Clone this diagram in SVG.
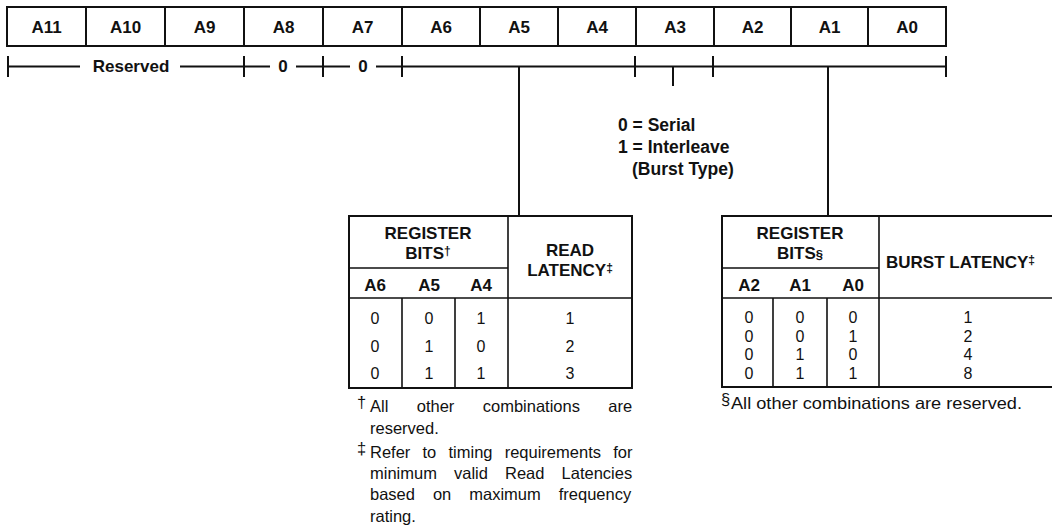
<svg xmlns="http://www.w3.org/2000/svg" width="1052" height="525" viewBox="0 0 1052 525">
<style>
text{font-family:"Liberation Sans",Arial,sans-serif;fill:#111}
.b{font-weight:bold}
.cell{font-size:17px;font-weight:bold;text-anchor:middle}
.h{font-size:17px;font-weight:bold;text-anchor:middle}
.d{font-size:16px;text-anchor:middle}
.fn{font-size:16.5px}
.ln{stroke:#111;stroke-width:2;fill:none}
.tl{stroke:#111;stroke-width:1.6;fill:none}
</style>
<rect width="1052" height="525" fill="#fff"/>
<g id="register">
<rect class="ln" x="7" y="7" width="939" height="39"/>
<path class="ln" d="M86 7V46M165 7V46M244 7V46M323 7V46M402 7V46M480 7V46M558 7V46M636 7V46M714 7V46M791 7V46M868 7V46"/>
<text class="cell" x="46.5" y="33">A11</text>
<text class="cell" x="125.5" y="33">A10</text>
<text class="cell" x="204.5" y="33">A9</text>
<text class="cell" x="283.5" y="33">A8</text>
<text class="cell" x="362.5" y="33">A7</text>
<text class="cell" x="441" y="33">A6</text>
<text class="cell" x="519" y="33">A5</text>
<text class="cell" x="597" y="33">A4</text>
<text class="cell" x="675" y="33">A3</text>
<text class="cell" x="752.5" y="33">A2</text>
<text class="cell" x="829.5" y="33">A1</text>
<text class="cell" x="907" y="33">A0</text>
</g>
<g id="ranges">
<path class="ln" d="M8 56V77M8 66.5H80M180 66.5H244M244 56V77M244 66.5H270M296 66.5H350M323 56V77M376 66.5H946M402 56V77M635 56V77M713 56V77M946 56V77"/>
<text class="h" x="131" y="72">Reserved</text>
<text class="h" x="283" y="72">0</text>
<text class="h" x="363" y="72">0</text>
</g>
<g id="connectors">
<path class="ln" d="M519 66V216M673 66V86M828 66V216"/>
</g>
<g id="burst-type">
<text class="b" x="618" y="131" font-size="17.5">0 = Serial</text>
<text class="b" x="618" y="153" font-size="17.5">1 = Interleave</text>
<text class="b" x="632" y="175" font-size="17.5">(Burst Type)</text>
</g>
<g id="read-latency-table">
<rect class="ln" x="349" y="216" width="283" height="172"/>
<path class="tl" d="M349 268H508M349 298H632M508 216V388M402 298V388M455 298V388"/>
<text class="h" x="428" y="239">REGISTER</text>
<text class="h" x="428" y="259">BITS<tspan font-size="12" dy="-4">†</tspan></text>
<text class="h" x="375" y="291">A6</text>
<text class="h" x="429" y="291">A5</text>
<text class="h" x="481" y="291">A4</text>
<text class="h" x="570" y="256">READ</text>
<text class="h" x="570" y="276">LATENCY<tspan font-size="12" dy="-4">‡</tspan></text>
<text class="d" x="375" y="324">0</text><text class="d" x="429" y="324">0</text><text class="d" x="481" y="324">1</text><text class="d" x="570" y="324">1</text>
<text class="d" x="375" y="352">0</text><text class="d" x="429" y="352">1</text><text class="d" x="481" y="352">0</text><text class="d" x="570" y="352">2</text>
<text class="d" x="375" y="379">0</text><text class="d" x="429" y="379">1</text><text class="d" x="481" y="379">1</text><text class="d" x="570" y="379">3</text>
</g>
<g id="burst-latency-table">
<path class="ln" d="M1052 216H722V387H1052"/>
<path class="tl" d="M722 268H879M722 298H1052M879 216V387M773 298V387M827 298V387"/>
<text class="h" x="800" y="239">REGISTER</text>
<text class="h" x="800" y="259">BITS<tspan font-size="13">§</tspan></text>
<text class="h" x="749" y="291">A2</text>
<text class="h" x="800" y="291">A1</text>
<text class="h" x="853" y="291">A0</text>
<text class="b" x="886" y="268" font-size="17">BURST LATENCY<tspan font-size="12" dy="-4">‡</tspan></text>
<text class="d" x="749" y="323">0</text><text class="d" x="800" y="323">0</text><text class="d" x="853" y="323">0</text><text class="d" x="968" y="323">1</text>
<text class="d" x="749" y="342">0</text><text class="d" x="800" y="342">0</text><text class="d" x="853" y="342">1</text><text class="d" x="968" y="342">2</text>
<text class="d" x="749" y="360">0</text><text class="d" x="800" y="360">1</text><text class="d" x="853" y="360">0</text><text class="d" x="968" y="360">4</text>
<text class="d" x="749" y="379">0</text><text class="d" x="800" y="379">1</text><text class="d" x="853" y="379">1</text><text class="d" x="968" y="379">8</text>
</g>
<g id="footnotes-left">
<text class="fn" x="357" y="408" font-size="15">†</text>
<text class="fn" x="370" y="412" word-spacing="23.8">All other combinations are</text>
<text class="fn" x="370" y="434">reserved.</text>
<text class="fn" x="357" y="454" font-size="15">‡</text>
<text class="fn" x="370" y="458" word-spacing="7.6">Refer to timing requirements for</text>
<text class="fn" x="370" y="479" word-spacing="12.5">minimum valid Read Latencies</text>
<text class="fn" x="370" y="500" word-spacing="13.4">based on maximum frequency</text>
<text class="fn" x="370" y="522">rating.</text>
</g>
<g id="footnote-right">
<text class="fn" x="721" y="405" font-size="12">§</text>
<text class="fn" x="731" y="409" textLength="291" lengthAdjust="spacingAndGlyphs">All other combinations are reserved.</text>
</g>
</svg>
